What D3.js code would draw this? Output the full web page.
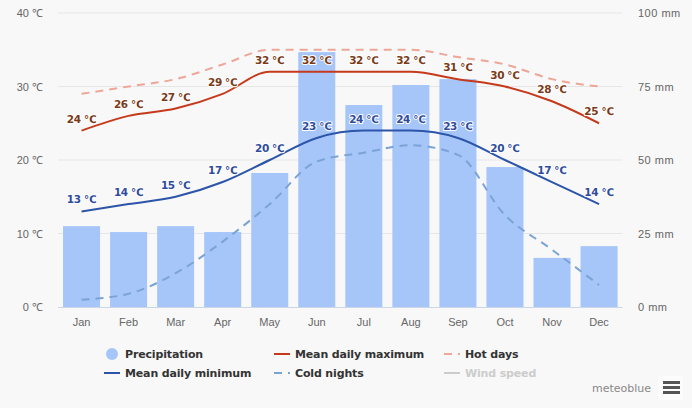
<!DOCTYPE html>
<html>
<head>
<meta charset="utf-8">
<script src="https://cdnjs.cloudflare.com/ajax/libs/d3/7.8.5/d3.min.js"></script>
<style>
html, body { margin: 0; padding: 0; background: #f8f8f8; }
svg { display: block; font-family: "DejaVu Sans", sans-serif; }
</style>
</head>
<body>
<svg id="chart" width="692" height="408"></svg>
<script>
const months = ['Jan', 'Feb', 'Mar', 'Apr', 'May', 'Jun', 'Jul', 'Aug', 'Sep', 'Oct', 'Nov', 'Dec'];
const precipitation = [27.5, 25.5, 27.5, 25.5, 45.6, 86.7, 68.7, 75.5, 77.5, 47.6, 16.7, 20.7];
const meanMax = [24, 26, 27, 29, 32, 32, 32, 32, 31, 30, 28, 25];
const meanMin = [13, 14, 15, 17, 20, 23, 24, 24, 23, 20, 17, 14];
const hotDays = [29, 30, 31, 33, 35, 35, 35, 35, 34, 33, 31, 30];
const coldNights = [1, 1.8, 4.6, 8.9, 14, 19.8, 21, 22, 20.7, 12.5, 7.8, 3];
const tempTicks = [0, 10, 20, 30, 40];
const rainTicks = [0, 25, 50, 75, 100];

let s = d3.select('#chart');

// plot box
let plotL = 58, plotR = 622.6, plotT = 13, plotB = 307;

let x = d3.scaleBand().domain(months).range([plotL, plotR]).paddingInner(0.213).paddingOuter(0.107);
let yT = d3.scaleLinear().domain([0, 40]).range([plotB, plotT]);
let yR = d3.scaleLinear().domain([0, 100]).range([plotB, plotT]);
let cx = m => x(m) + x.bandwidth() / 2;

// grid
s.append('g').selectAll('line')
    .data(tempTicks.slice(1))
    .enter()
    .append('line')
    .attr('x1', plotL).attr('x2', plotR)
    .attr('y1', d => yT(d)).attr('y2', d => yT(d))
    .style('stroke', '#e6e6e6');

// bars
s.append('g').selectAll('rect')
    .data(precipitation)
    .enter()
    .append('rect')
    .attr('x', (d, i) => x(months[i]))
    .attr('width', x.bandwidth())
    .attr('y', d => yR(d))
    .attr('height', d => plotB - yR(d))
    .style('fill', '#a6c6fa');

// axes
let styleAxis = g => {
    g.select('.domain').remove();
    g.selectAll('.tick line').remove();
    g.selectAll('text').style('fill', '#666').style('font-size', '11px');
};
s.append('g').attr('transform', `translate(43,0)`)
    .call(d3.axisLeft(yT).tickValues(tempTicks).tickSize(0).tickPadding(0).tickFormat(d => d + ' ℃'))
    .call(styleAxis);
s.append('g').attr('transform', `translate(638,0)`)
    .call(d3.axisRight(yR).tickValues(rainTicks).tickSize(0).tickPadding(0).tickFormat(d => d + ' mm'))
    .call(styleAxis)
    .selectAll('text').style('letter-spacing', '0.5px');
s.append('g').attr('transform', `translate(0,${plotB + 11})`)
    .call(d3.axisBottom(x).tickSize(0).tickPadding(0))
    .call(styleAxis);
s.append('line')
    .attr('x1', plotL).attr('x2', plotR)
    .attr('y1', plotB + 0.5).attr('y2', plotB + 0.5)
    .style('stroke', '#ccd6eb');

// lines
let line = d3.line()
    .x((d, i) => cx(months[i]))
    .y(d => yT(d))
    .curve(d3.curveMonotoneX);

let series = [
    {values: hotDays, color: '#eda698', dash: '8,6'},
    {values: coldNights, color: '#7ba3d6', dash: '8,6'},
    {values: meanMax, color: '#c63a1c'},
    {values: meanMin, color: '#2c55a9'}
];
series.forEach(d => {
    s.append('path')
        .attr('d', line(d.values))
        .style('fill', 'none')
        .style('stroke', d.color)
        .style('stroke-width', 2)
        .style('stroke-dasharray', d.dash || null);
});

// point labels
let labels = [
    {values: meanMax, color: '#7a3a18'},
    {values: meanMin, color: '#2f4c9c'}
];
labels.forEach(l => {
    s.append('g').selectAll('text')
        .data(l.values)
        .enter()
        .append('text')
        .attr('x', (d, i) => cx(months[i]))
        .attr('y', d => yT(d) - 8)
        .attr('text-anchor', 'middle')
        .text(d => d + ' ℃')
        .style('font-size', '10.5px')
        .style('font-weight', 'bold')
        .style('letter-spacing', '-0.4px')
        .style('fill', l.color)
        .style('stroke', '#fff')
        .style('stroke-width', 2)
        .style('stroke-linejoin', 'round')
        .style('paint-order', 'stroke');
});

// legend
let legend = [
    {name: 'Precipitation', lx: 104, ly: 354, circle: true},
    {name: 'Mean daily maximum', lx: 274, ly: 354, color: '#c63a1c'},
    {name: 'Hot days', lx: 444, ly: 354, color: '#eda698', dash: '8,6'},
    {name: 'Mean daily minimum', lx: 104, ly: 373, color: '#2c55a9'},
    {name: 'Cold nights', lx: 274, ly: 373, color: '#7ba3d6', dash: '8,6'},
    {name: 'Wind speed', lx: 444, ly: 373, color: '#ccc', off: true}
];
legend.forEach(d => {
    if (d.circle) {
        s.append('circle').attr('cx', d.lx + 8).attr('cy', d.ly).attr('r', 6).style('fill', '#a6c6fa');
    } else {
        s.append('line')
            .attr('x1', d.lx).attr('x2', d.lx + 16)
            .attr('y1', d.ly).attr('y2', d.ly)
            .style('stroke', d.color)
            .style('stroke-width', 2)
            .style('stroke-dasharray', d.dash || null);
    }
    s.append('text')
        .attr('x', d.lx + 21)
        .attr('y', d.ly + 4)
        .text(d.name)
        .style('font-size', '11px')
        .style('font-weight', 'bold')
        .style('letter-spacing', '-0.15px')
        .style('fill', d.off ? '#ccc' : '#333');
});

// credit and menu button
s.append('text')
    .attr('x', 651).attr('y', 392)
    .attr('text-anchor', 'end')
    .text('meteoblue')
    .style('font-size', '11px')
    .style('fill', '#888');
s.append('rect').attr('x', 658).attr('y', 376).attr('width', 25).attr('height', 24).style('fill', '#fcfcfc');
[381, 386, 391].forEach(y => {
    s.append('rect').attr('x', 663).attr('y', y).attr('width', 17).attr('height', 3).style('fill', '#555');
});
</script>
</body>
</html>
